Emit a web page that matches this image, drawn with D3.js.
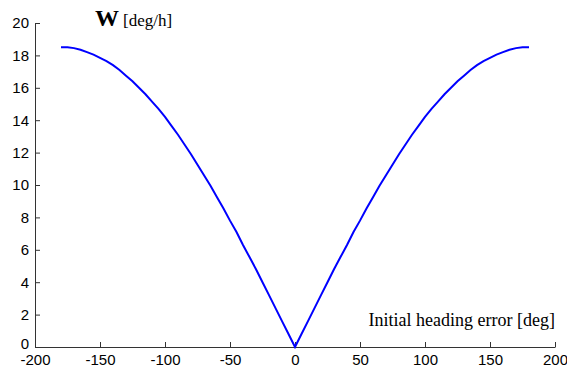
<!DOCTYPE html>
<html>
<head>
<meta charset="utf-8">
<script src="https://cdn.jsdelivr.net/npm/d3@7"></script>
<style>
  body { margin: 0; background: #fff; }
  svg { display: block; }
</style>
</head>
<body>
<svg id="chart" width="567" height="372"></svg>
<script>
// heading error (deg) (symmetric about 0)
const headingErr = [0, 5, 10, 15, 20, 25, 30, 35, 40, 45, 50, 55, 60, 65, 70, 75, 80, 85, 90,
    95, 100, 105, 110, 115, 120, 125, 130, 135, 140, 145, 150, 155, 160, 165, 170, 175, 180];
const driftRate = [0, 0.8, 1.6, 2.4, 3.2, 4.0, 4.8, 5.55, 6.3, 7.1, 7.8, 8.55, 9.25, 9.95, 10.6, 11.25, 11.9, 12.5, 13.1,
    13.65, 14.2, 14.7, 15.15, 15.6, 16.0, 16.4, 16.75, 17.1, 17.4, 17.65, 17.85, 18.05, 18.2, 18.35, 18.45, 18.5, 18.5];
const xTicks = [-200, -150, -100, -50, 0, 50, 100, 150, 200];
const yTicks = [0, 2, 4, 6, 8, 10, 12, 14, 16, 18, 20];

// mirror the right half onto the left
const points = [];
for (let i = headingErr.length - 1; i > 0; i--) points.push([-headingErr[i], driftRate[i]]);
for (let i = 0; i < headingErr.length; i++) points.push([headingErr[i], driftRate[i]]);

const svg = d3.select("#chart");
const plot = { left: 35, right: 555, top: 23, bottom: 347 };

const x = d3.scaleLinear().domain([-200, 200]).range([plot.left, plot.right]);
const y = d3.scaleLinear().domain([0, 20]).range([plot.bottom, plot.top]);

const axisColor = "#333";
const plain = d => String(d);   // hyphen minus, like the original

// x axis, ticks point up into the plot
const gx = svg.append("g")
    .attr("transform", `translate(0,${plot.bottom})`)
    .call(d3.axisBottom(x).tickValues(xTicks).tickFormat(plain).tickSize(-5).tickSizeOuter(0));
gx.select(".domain").attr("stroke", axisColor);
gx.selectAll(".tick line").attr("stroke", axisColor);
gx.selectAll("text")
    .attr("font-family", "Liberation Sans, Arial, sans-serif")
    .attr("font-size", 15)
    .attr("fill", "#000")
    .attr("dy", "0.71em")
    .attr("y", 7);

// y axis, ticks point right
const gy = svg.append("g")
    .attr("transform", `translate(${plot.left},0)`)
    .call(d3.axisLeft(y).tickValues(yTicks).tickFormat(plain).tickSize(-5).tickSizeOuter(0).tickPadding(6));
gy.select(".domain").attr("stroke", axisColor);
gy.selectAll(".tick line").attr("stroke", axisColor);
gy.selectAll("text")
    .attr("font-family", "Liberation Sans, Arial, sans-serif")
    .attr("font-size", 15)
    .attr("fill", "#000");
// lift the "0" a touch so it sits just above "-200"
gy.selectAll(".tick").filter(d => d === 0).select("text").attr("dy", "0.1em");

// curve
svg.append("path")
    .datum(points)
    .attr("fill", "none")
    .attr("stroke", "#0000ff")
    .attr("stroke-width", 2)
    .attr("d", d3.line().x(d => x(d[0])).y(d => y(d[1])));

// labels
const ylab = svg.append("text")
    .attr("x", 95)
    .attr("y", 26)
    .attr("font-family", "Liberation Serif, Times New Roman, serif")
    .attr("fill", "#000");
ylab.append("tspan").attr("font-weight", "bold").attr("font-size", 24).text("W");
ylab.append("tspan").attr("font-size", 17).attr("dx", 4).text("[deg/h]");

svg.append("text")
    .attr("x", 555)
    .attr("y", 326)
    .attr("text-anchor", "end")
    .attr("font-family", "Liberation Serif, Times New Roman, serif")
    .attr("font-size", 18)
    .attr("fill", "#000")
    .text("Initial heading error [deg]");
</script>
</body>
</html>
